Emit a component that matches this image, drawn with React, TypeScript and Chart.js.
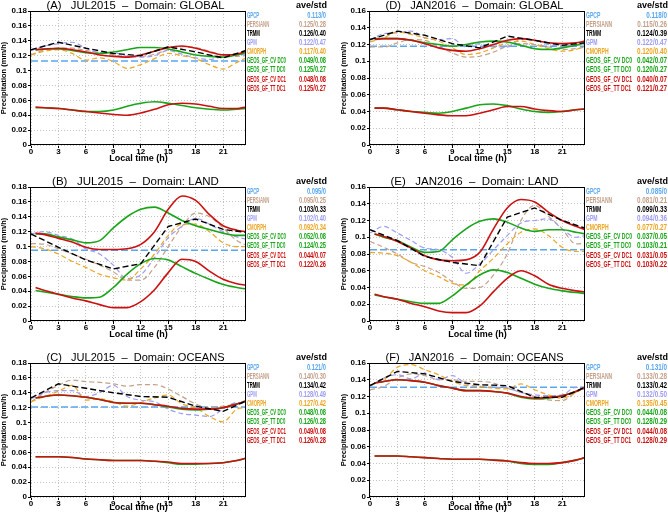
import React, { useEffect, useRef } from "react";
import { Chart, registerables } from "chart.js";

Chart.register(...registerables);

// ---------------- data ----------------
const SERIES_NAMES = [
  "GPCP",
  "PERSIANN",
  "TRMM",
  "GPM",
  "CMORPH",
  "GEOS_GF_CV DC0",
  "GEOS_GF_TT DC0",
  "GEOS_GF_CV DC1",
  "GEOS_GF_TT DC1",
];

const OBS_HOURS = [0, 1.5, 3, 4.5, 6, 7.5, 9, 10.5, 12, 13.5, 15, 16.5, 18, 19.5, 21, 22.5, 23.5];
const MODEL_HOURS = [0.5, 1.5, 3, 4.5, 6, 7.5, 9, 10.5, 12, 13.5, 15, 16.5, 18, 19.5, 21, 22.5, 23.5];
const TRMM_HOURS = [0, 3, 6, 9, 12, 15, 18, 21, 23.5];
const GPCP_HOURS = [0, 23.5];

const X_TICKS = [0, 3, 6, 9, 12, 15, 18, 21];
const Y_TICKS_018 = [0, 0.02, 0.04, 0.06, 0.08, 0.1, 0.12, 0.14, 0.16, 0.18];
const Y_TICKS_016 = [0, 0.02, 0.04, 0.06, 0.08, 0.1, 0.12, 0.14, 0.16];

// (A) JUL2015 GLOBAL
const A_GPCP = [0.113, 0.113];
const A_PERSIANN = [0.121, 0.128, 0.130, 0.130, 0.127, 0.124, 0.121, 0.119, 0.119, 0.122, 0.128, 0.132, 0.131, 0.126, 0.121, 0.119, 0.120];
const A_TRMM = [0.128, 0.138, 0.130, 0.123, 0.120, 0.132, 0.125, 0.117, 0.127];
const A_GPM = [0.127, 0.133, 0.136, 0.138, 0.130, 0.124, 0.124, 0.119, 0.118, 0.120, 0.127, 0.122, 0.117, 0.115, 0.119, 0.122, 0.121];
const A_CMORPH = [0.121, 0.126, 0.128, 0.123, 0.114, 0.117, 0.112, 0.103, 0.108, 0.116, 0.123, 0.120, 0.116, 0.108, 0.102, 0.111, 0.117];
const A_CV_DC0 = [0.050, 0.050, 0.049, 0.047, 0.045, 0.045, 0.047, 0.052, 0.056, 0.058, 0.056, 0.053, 0.050, 0.048, 0.047, 0.048, 0.049];
const A_TT_DC0 = [0.128, 0.129, 0.129, 0.127, 0.124, 0.123, 0.125, 0.128, 0.131, 0.131, 0.129, 0.125, 0.121, 0.119, 0.118, 0.121, 0.124];
const A_CV_DC1 = [0.051, 0.050, 0.049, 0.047, 0.045, 0.043, 0.041, 0.040, 0.043, 0.048, 0.054, 0.056, 0.055, 0.052, 0.049, 0.049, 0.051];
const A_TT_DC1 = [0.128, 0.129, 0.130, 0.128, 0.125, 0.121, 0.119, 0.118, 0.121, 0.126, 0.131, 0.133, 0.130, 0.125, 0.121, 0.122, 0.126];
const A_STATS = ["0.113/0", "0.125/0.28", "0.126/0.40", "0.122/0.47", "0.117/0.40", "0.049/0.08", "0.125/0.27", "0.048/0.08", "0.125/0.27"];

// (B) JUL2015 LAND
const B_GPCP = [0.095, 0.095];
const B_PERSIANN = [0.104, 0.103, 0.097, 0.090, 0.083, 0.075, 0.066, 0.055, 0.055, 0.072, 0.100, 0.127, 0.145, 0.140, 0.125, 0.108, 0.102];
const B_TRMM = [0.117, 0.099, 0.082, 0.070, 0.077, 0.127, 0.137, 0.123, 0.119];
const B_GPM = [0.117, 0.120, 0.115, 0.110, 0.097, 0.090, 0.075, 0.057, 0.062, 0.085, 0.112, 0.127, 0.138, 0.130, 0.120, 0.113, 0.110];
const B_CMORPH = [0.100, 0.097, 0.090, 0.080, 0.072, 0.063, 0.058, 0.055, 0.070, 0.090, 0.115, 0.130, 0.130, 0.120, 0.105, 0.100, 0.100];
const B_CV_DC0 = [0.041, 0.039, 0.036, 0.033, 0.031, 0.032, 0.045, 0.063, 0.077, 0.084, 0.082, 0.073, 0.064, 0.056, 0.049, 0.045, 0.043];
const B_TT_DC0 = [0.117, 0.117, 0.113, 0.109, 0.105, 0.108, 0.125, 0.140, 0.150, 0.153, 0.145, 0.135, 0.128, 0.123, 0.118, 0.115, 0.115];
const B_CV_DC1 = [0.045, 0.041, 0.036, 0.031, 0.027, 0.022, 0.018, 0.018, 0.026, 0.042, 0.065, 0.083, 0.080, 0.067, 0.056, 0.050, 0.048];
const B_TT_DC1 = [0.118, 0.116, 0.111, 0.106, 0.099, 0.096, 0.096, 0.097, 0.103, 0.120, 0.150, 0.168, 0.162, 0.143, 0.128, 0.122, 0.120];
const B_STATS = ["0.095/0", "0.095/0.25", "0.103/0.33", "0.102/0.40", "0.092/0.34", "0.052/0.08", "0.124/0.25", "0.044/0.07", "0.122/0.26"];

// (C) JUL2015 OCEANS
const C_GPCP = [0.121, 0.121];
const C_PERSIANN = [0.128, 0.140, 0.150, 0.157, 0.155, 0.154, 0.152, 0.149, 0.151, 0.151, 0.145, 0.135, 0.125, 0.120, 0.122, 0.125, 0.130];
const C_TRMM = [0.133, 0.152, 0.146, 0.140, 0.135, 0.134, 0.122, 0.115, 0.129];
const C_GPM = [0.132, 0.140, 0.143, 0.143, 0.135, 0.140, 0.150, 0.135, 0.130, 0.128, 0.118, 0.112, 0.110, 0.108, 0.118, 0.127, 0.125];
const C_CMORPH = [0.128, 0.135, 0.142, 0.150, 0.130, 0.132, 0.128, 0.122, 0.127, 0.133, 0.137, 0.125, 0.120, 0.108, 0.101, 0.118, 0.120];
const C_CV_DC0 = [0.054, 0.054, 0.054, 0.053, 0.051, 0.050, 0.049, 0.049, 0.049, 0.048, 0.046, 0.044, 0.044, 0.045, 0.046, 0.049, 0.052];
const C_TT_DC0 = [0.133, 0.135, 0.137, 0.136, 0.134, 0.131, 0.127, 0.126, 0.126, 0.124, 0.121, 0.118, 0.117, 0.118, 0.120, 0.125, 0.129];
const C_CV_DC1 = [0.054, 0.054, 0.054, 0.053, 0.051, 0.050, 0.049, 0.049, 0.049, 0.048, 0.047, 0.045, 0.045, 0.045, 0.046, 0.049, 0.052];
const C_TT_DC1 = [0.133, 0.135, 0.137, 0.136, 0.134, 0.131, 0.127, 0.126, 0.126, 0.124, 0.122, 0.119, 0.118, 0.118, 0.120, 0.125, 0.129];
const C_STATS = ["0.121/0", "0.140/0.30", "0.134/0.42", "0.128/0.49", "0.127/0.42", "0.048/0.08", "0.126/0.28", "0.049/0.08", "0.126/0.28"];

// (D) JAN2016 GLOBAL
const D_GPCP = [0.118, 0.118];
const D_PERSIANN = [0.117, 0.117, 0.122, 0.126, 0.125, 0.118, 0.110, 0.105, 0.106, 0.111, 0.118, 0.121, 0.120, 0.117, 0.114, 0.115, 0.117];
const D_TRMM = [0.126, 0.136, 0.131, 0.121, 0.116, 0.130, 0.125, 0.119, 0.122];
const D_GPM = [0.125, 0.133, 0.134, 0.136, 0.128, 0.126, 0.127, 0.117, 0.121, 0.117, 0.117, 0.126, 0.125, 0.120, 0.118, 0.120, 0.119];
const D_CMORPH = [0.123, 0.128, 0.135, 0.132, 0.128, 0.124, 0.116, 0.108, 0.110, 0.116, 0.122, 0.124, 0.120, 0.115, 0.112, 0.114, 0.118];
const D_CV_DC0 = [0.044, 0.044, 0.042, 0.040, 0.039, 0.038, 0.040, 0.044, 0.048, 0.049, 0.047, 0.043, 0.040, 0.039, 0.040, 0.042, 0.043];
const D_TT_DC0 = [0.127, 0.127, 0.127, 0.125, 0.122, 0.120, 0.118, 0.120, 0.123, 0.124, 0.123, 0.119, 0.115, 0.114, 0.116, 0.119, 0.122];
const D_CV_DC1 = [0.044, 0.044, 0.042, 0.040, 0.038, 0.036, 0.035, 0.035, 0.038, 0.042, 0.046, 0.046, 0.043, 0.041, 0.040, 0.042, 0.043];
const D_TT_DC1 = [0.126, 0.127, 0.127, 0.125, 0.121, 0.116, 0.113, 0.112, 0.115, 0.120, 0.125, 0.127, 0.125, 0.122, 0.121, 0.122, 0.124];
const D_STATS = ["0.118/0", "0.115/0.26", "0.124/0.39", "0.122/0.47", "0.120/0.40", "0.042/0.07", "0.120/0.27", "0.040/0.07", "0.121/0.27"];

// (E) JAN2016 LAND
const E_GPCP = [0.085, 0.085];
const E_PERSIANN = [0.095, 0.088, 0.080, 0.070, 0.065, 0.058, 0.047, 0.039, 0.040, 0.055, 0.080, 0.120, 0.138, 0.125, 0.110, 0.092, 0.093];
const E_TRMM = [0.109, 0.096, 0.077, 0.070, 0.066, 0.124, 0.135, 0.120, 0.111];
const E_GPM = [0.105, 0.113, 0.105, 0.096, 0.087, 0.085, 0.076, 0.057, 0.068, 0.085, 0.102, 0.117, 0.120, 0.122, 0.110, 0.100, 0.102];
const E_CMORPH = [0.082, 0.081, 0.078, 0.070, 0.060, 0.053, 0.045, 0.043, 0.060, 0.075, 0.092, 0.106, 0.110, 0.102, 0.088, 0.083, 0.083];
const E_CV_DC0 = [0.031, 0.029, 0.026, 0.023, 0.021, 0.021, 0.030, 0.043, 0.055, 0.061, 0.058, 0.051, 0.044, 0.039, 0.036, 0.034, 0.033];
const E_TT_DC0 = [0.104, 0.100, 0.096, 0.088, 0.082, 0.083, 0.097, 0.110, 0.119, 0.122, 0.118, 0.111, 0.107, 0.109, 0.109, 0.106, 0.104];
const E_CV_DC1 = [0.032, 0.029, 0.026, 0.021, 0.017, 0.012, 0.010, 0.010, 0.018, 0.035, 0.051, 0.060, 0.054, 0.044, 0.039, 0.036, 0.035];
const E_TT_DC1 = [0.104, 0.101, 0.095, 0.087, 0.078, 0.073, 0.072, 0.073, 0.082, 0.110, 0.135, 0.145, 0.142, 0.130, 0.120, 0.113, 0.109];
const E_STATS = ["0.085/0", "0.081/0.21", "0.099/0.33", "0.094/0.36", "0.077/0.27", "0.037/0.05", "0.103/0.21", "0.031/0.05", "0.103/0.22"];

// (F) JAN2016 OCEANS
const F_GPCP = [0.131, 0.131];
const F_PERSIANN = [0.128, 0.132, 0.142, 0.147, 0.145, 0.140, 0.140, 0.138, 0.138, 0.136, 0.130, 0.125, 0.120, 0.116, 0.115, 0.125, 0.130];
const F_TRMM = [0.133, 0.150, 0.147, 0.138, 0.134, 0.133, 0.119, 0.119, 0.131];
const F_GPM = [0.132, 0.142, 0.146, 0.141, 0.148, 0.140, 0.145, 0.135, 0.132, 0.131, 0.130, 0.125, 0.122, 0.121, 0.122, 0.131, 0.128];
const F_CMORPH = [0.133, 0.140, 0.155, 0.158, 0.152, 0.146, 0.138, 0.133, 0.132, 0.130, 0.129, 0.135, 0.128, 0.122, 0.118, 0.125, 0.133];
const F_CV_DC0 = [0.049, 0.049, 0.049, 0.048, 0.047, 0.046, 0.045, 0.045, 0.045, 0.044, 0.043, 0.040, 0.039, 0.039, 0.041, 0.044, 0.047];
const F_TT_DC0 = [0.136, 0.138, 0.140, 0.139, 0.137, 0.133, 0.130, 0.127, 0.127, 0.126, 0.124, 0.119, 0.117, 0.118, 0.121, 0.126, 0.131];
const F_CV_DC1 = [0.049, 0.049, 0.049, 0.048, 0.047, 0.046, 0.045, 0.045, 0.045, 0.044, 0.043, 0.041, 0.040, 0.040, 0.041, 0.044, 0.047];
const F_TT_DC1 = [0.136, 0.138, 0.140, 0.139, 0.137, 0.133, 0.130, 0.127, 0.127, 0.126, 0.124, 0.120, 0.118, 0.119, 0.121, 0.126, 0.131];
const F_STATS = ["0.131/0", "0.133/0.28", "0.133/0.42", "0.132/0.50", "0.135/0.45", "0.044/0.08", "0.128/0.29", "0.044/0.08", "0.128/0.29"];

// ---------------- styling ----------------
const COLORS = ["#5aa6f0", "#c4a08a", "#000000", "#9c9cf4", "#eca622", "#18a618", "#18a618", "#cc1010", "#cc1010"];

type PanelDef = {
  title: string;
  col: number;
  row: number;
  yTicks: number[];
  series: number[][]; // in SERIES_NAMES order
  stats: string[];
};

const PANELS: PanelDef[] = [
  { title: "(A)   JUL2015  \u2013  Domain: GLOBAL", col: 0, row: 0, yTicks: Y_TICKS_018,
    series: [A_GPCP, A_PERSIANN, A_TRMM, A_GPM, A_CMORPH, A_CV_DC0, A_TT_DC0, A_CV_DC1, A_TT_DC1], stats: A_STATS },
  { title: "(B)   JUL2015  \u2013  Domain: LAND", col: 0, row: 1, yTicks: Y_TICKS_018,
    series: [B_GPCP, B_PERSIANN, B_TRMM, B_GPM, B_CMORPH, B_CV_DC0, B_TT_DC0, B_CV_DC1, B_TT_DC1], stats: B_STATS },
  { title: "(C)   JUL2015  \u2013  Domain: OCEANS", col: 0, row: 2, yTicks: Y_TICKS_018,
    series: [C_GPCP, C_PERSIANN, C_TRMM, C_GPM, C_CMORPH, C_CV_DC0, C_TT_DC0, C_CV_DC1, C_TT_DC1], stats: C_STATS },
  { title: "(D)   JAN2016  \u2013  Domain: GLOBAL", col: 1, row: 0, yTicks: Y_TICKS_016,
    series: [D_GPCP, D_PERSIANN, D_TRMM, D_GPM, D_CMORPH, D_CV_DC0, D_TT_DC0, D_CV_DC1, D_TT_DC1], stats: D_STATS },
  { title: "(E)   JAN2016  \u2013  Domain: LAND", col: 1, row: 1, yTicks: Y_TICKS_016,
    series: [E_GPCP, E_PERSIANN, E_TRMM, E_GPM, E_CMORPH, E_CV_DC0, E_TT_DC0, E_CV_DC1, E_TT_DC1], stats: E_STATS },
  { title: "(F)   JAN2016  \u2013  Domain: OCEANS", col: 1, row: 2, yTicks: Y_TICKS_016,
    series: [F_GPCP, F_PERSIANN, F_TRMM, F_GPM, F_CMORPH, F_CV_DC0, F_TT_DC0, F_CV_DC1, F_TT_DC1], stats: F_STATS },
];

const COL_LEFT = [0, 334];
const COL_YAXIS_W = [31, 36];
const COL_RIGHT_PAD = [88, 83];
const COL_YTITLE_PT = [0.5, 6];
const COL_LABEL_W = [39, 46];
const COL_VALUE_W = [27, 30];
const COL_VALUE_RIGHT = [326, 333];
const ROW_TOP = [0, 172, 344];
const ROW_H = [172, 172, 173];
const ROW_TOP_PAD = [11, 15, 19];
const ROW_XAXIS_H = [27, 23, 20];
const ROW_XTITLE_PB = [8.5, 4.5, 4.5];

const FONT = '"Liberation Sans", Arial, sans-serif';

function hoursFor(i: number): number[] {
  if (i === 0) return GPCP_HOURS;
  if (i === 2) return TRMM_HOURS;
  if (i >= 5) return MODEL_HOURS;
  return OBS_HOURS;
}

function fmt(v: number): string {
  return v === 0 ? "0" : String(Number(v.toFixed(2)));
}

// draw order: first dataset is drawn on top
const DRAW_ORDER = [2, 8, 7, 6, 5, 4, 3, 1, 0];

function PanelChart({ p }: { p: PanelDef }) {
  const ref = useRef<HTMLCanvasElement | null>(null);
  const w = 334;
  const h = ROW_H[p.row];

  useEffect(() => {
    if (!ref.current) return;
    const datasets = DRAW_ORDER.map((i) => {
      const xs = hoursFor(i);
      const isModel = i >= 5;
      const base: any = {
        label: SERIES_NAMES[i],
        data: p.series[i].map((y, k) => ({ x: xs[k], y })),
        borderColor: COLORS[i],
        backgroundColor: COLORS[i],
        pointRadius: 0,
        fill: false,
      };
      if (isModel) {
        base.borderWidth = 1.6;
        base.cubicInterpolationMode = "monotone";
      } else if (i === 2) {
        base.borderWidth = 1.4;
        base.borderDash = [6, 3];
        base.tension = 0;
      } else if (i === 0) {
        base.borderWidth = 1.5;
        base.borderDash = [7, 3];
        base.tension = 0;
      } else {
        base.borderWidth = 1.2;
        base.borderDash = [5, 3];
        base.cubicInterpolationMode = "monotone";
      }
      return base;
    });

    const textPlugin = {
      id: "panelText",
      afterDraw(chart: any) {
        const { ctx, chartArea } = chart;
        const { left, right, top, bottom } = chartArea;
        ctx.save();
        // frame
        ctx.strokeStyle = "#000";
        ctx.lineWidth = 1;
        ctx.setLineDash([]);
        ctx.strokeRect(Math.round(left) - 0.5, Math.round(top) + 0.5, Math.round(right - left), Math.round(bottom - top) - 1);
        // title
        ctx.fillStyle = "#000";
        ctx.font = `11.5px ${FONT}`;
        ctx.textAlign = "center";
        ctx.textBaseline = "middle";
        ctx.fillText(p.title, (left + right) / 2 - 3, top - 5, 178);
        // legend header
        const valRight = COL_VALUE_RIGHT[p.col];
        ctx.font = `bold 9px ${FONT}`;
        ctx.textAlign = "right";
        ctx.fillText("ave/std", valRight + 1, top - 5);
        // legend rows
        ctx.font = `bold 8.5px ${FONT}`;
        const labelScale = COL_LABEL_W[p.col] / ctx.measureText(SERIES_NAMES[5]).width;
        const valueScale = COL_VALUE_W[p.col] / ctx.measureText("0.049/0.08").width;
        for (let i = 0; i < SERIES_NAMES.length; i++) {
          const y = top + 4.5 + i * 9.1;
          ctx.fillStyle = COLORS[i];
          ctx.font = `bold 8.5px ${FONT}`;
          ctx.textAlign = "left";
          ctx.save();
          ctx.translate(right + 1, y);
          ctx.scale(labelScale, 1);
          ctx.fillText(SERIES_NAMES[i], 0, 0);
          ctx.restore();
          ctx.textAlign = "right";
          ctx.save();
          ctx.translate(valRight, y);
          ctx.scale(valueScale, 1);
          ctx.fillText(p.stats[i], 0, 0);
          ctx.restore();
        }
        ctx.restore();
      },
    };

    const tickFont = { family: FONT, size: 8, weight: "bold" as const, lineHeight: 1 };
    const chart = new Chart(ref.current, {
      type: "line",
      data: { datasets },
      options: {
        animation: false,
        responsive: false,
        devicePixelRatio: 1,
        events: [],
        layout: {
          padding: { left: 0, right: COL_RIGHT_PAD[p.col], top: ROW_TOP_PAD[p.row], bottom: 0 },
        },
        plugins: {
          legend: { display: false },
          title: { display: false },
          tooltip: { enabled: false },
        },
        scales: {
          x: {
            type: "linear",
            min: 0,
            max: 23.5,
            afterBuildTicks: (s: any) => {
              s.ticks = X_TICKS.map((v) => ({ value: v }));
            },
            afterFit: (s: any) => {
              s.height = ROW_XAXIS_H[p.row];
            },
            ticks: {
              font: tickFont,
              color: "#000",
              padding: 0,
              maxRotation: 0,
              autoSkip: false,
              callback: (v: any) => String(v),
            },
            grid: { color: "#c4c4c4", tickColor: "#000", tickLength: 3, lineWidth: 1 },
            border: { display: false, dash: [1, 2] },
            title: {
              display: true,
              text: "Local time (h)",
              color: "#000",
              font: { family: FONT, size: 9, weight: "bold", lineHeight: 1 },
              padding: { top: 0, bottom: ROW_XTITLE_PB[p.row] },
            },
          },
          y: {
            type: "linear",
            min: 0,
            max: p.yTicks[p.yTicks.length - 1],
            afterBuildTicks: (s: any) => {
              s.ticks = p.yTicks.map((v) => ({ value: v }));
            },
            afterFit: (s: any) => {
              s.width = COL_YAXIS_W[p.col];
            },
            ticks: {
              font: tickFont,
              color: "#000",
              padding: 1,
              autoSkip: false,
              callback: (v: any) => fmt(Number(v)),
            },
            grid: { color: "#c4c4c4", tickColor: "#000", tickLength: 3, lineWidth: 1 },
            border: { display: false, dash: [1, 2] },
            title: {
              display: true,
              text: "Precipitation (mm/h)",
              color: "#000",
              font: { family: FONT, size: 7.5, weight: "bold", lineHeight: 1 },
              padding: { top: COL_YTITLE_PT[p.col], bottom: 0 },
            },
          },
        },
      } as any,
      plugins: [textPlugin],
    });
    return () => chart.destroy();
  }, [p]);

  return (
    <canvas
      ref={ref}
      width={w}
      height={h}
      style={{
        position: "absolute",
        left: COL_LEFT[p.col],
        top: ROW_TOP[p.row],
        width: w,
        height: h,
      }}
    />
  );
}

export default function App() {
  return (
    <div
      style={{
        position: "absolute",
        left: 0,
        top: 0,
        width: 668,
        height: 517,
        background: "#ffffff",
        overflow: "hidden",
      }}
    >
      {PANELS.map((p) => (
        <PanelChart key={p.title} p={p} />
      ))}
    </div>
  );
}
